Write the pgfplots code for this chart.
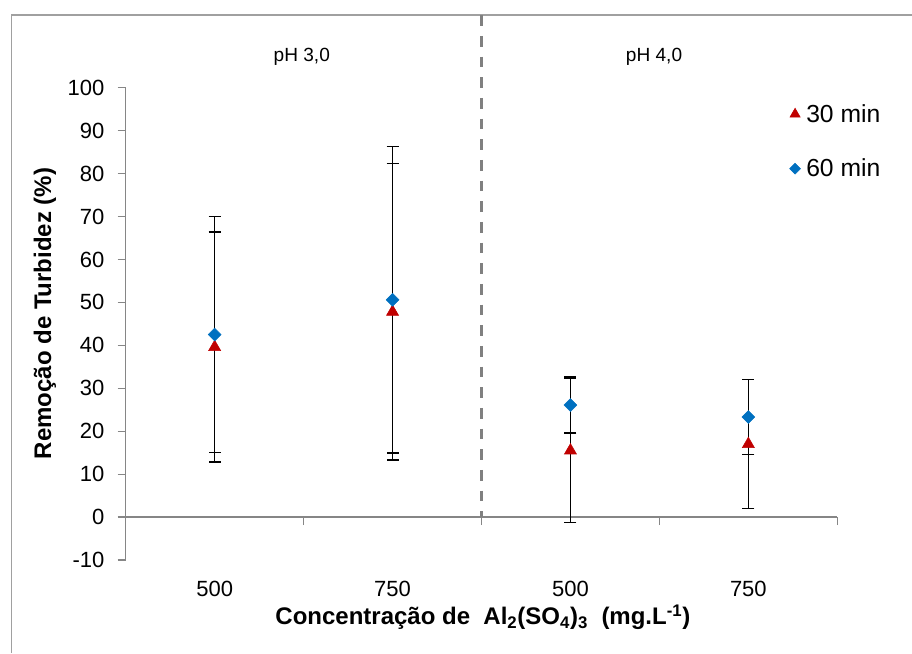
\documentclass[border=0pt]{standalone}
\usepackage{fontspec}
\setmainfont{Liberation Sans}
\usepackage{pgfplots}
\usepackage{pgfplotstable}
\pgfplotsset{compat=1.18}
\definecolor{axgray}{RGB}{134,134,134}
\definecolor{framegray}{RGB}{160,160,160}
\definecolor{dashgray}{RGB}{128,128,128}
\definecolor{myred}{RGB}{192,0,0}
\definecolor{myblue}{RGB}{0,112,192}

\pgfplotstableread{
x y err
0 39.6 26.8
1 47.8 34.5
2 15.5 16.8
3 17.0 15.0
}\thirty
\pgfplotstableread{
x y err
0 42.5 27.5
1 50.6 35.7
2 26.1 6.5
3 23.3 8.7
}\sixty

\begin{document}
\begin{tikzpicture}
\path[use as bounding box] (-94.275pt,-69.75pt) rectangle (589.725pt,420pt);
\draw[framegray, line width=1.1pt] (-85.5pt,-69.75pt) -- (-85.5pt,408.75pt) -- (589.725pt,408.75pt);
\begin{axis}[
  at={(0pt,0pt)}, anchor=south west,
  scale only axis, width=533.7pt, height=354.2pt,
  xmin=-0.5, xmax=3.5, ymin=-10, ymax=100,
  axis x line=center, axis y line=left,
  axis line style={-, axgray, line width=0.9pt},
  tick align=outside,
  major tick length=6pt, minor tick length=6pt,
  every tick/.style={axgray, line width=0.9pt},
  xtick={0,1,2,3},
  xticklabels={500,750,500,750},
  minor xtick={-0.5,0.5,1.5,2.5,3.5},
  every major x tick/.style={draw=none},
  xticklabel style={anchor=center, yshift=-48pt},
  ytick={-10,0,...,100},
  /pgf/number format/assume math mode=true,
  tick label style={font=\fontsize{16.5}{19}\selectfont, black},
  yticklabel style={xshift=-6.5pt},
  xlabel={Concentração de\ \ Al\textsubscript{2}(SO\textsubscript{4})\textsubscript{3}\ \ (mg.L\textsuperscript{-1})},
  ylabel={Remoção de Turbidez (\%)},
  label style={font=\fontsize{18}{22}\selectfont\bfseries},
  xlabel style={at={(axis description cs:0.502,-0.1207)}, anchor=center},
  ylabel style={at={(axis description cs:-0.1134,0.522)}, anchor=center},
  clip=false,
  legend style={at={(rel axis cs:0.927,0.977)}, anchor=north west, draw=none, fill=none,
    font=\fontsize{18.5}{22}\selectfont, row sep=22pt},
  legend cell align=left,
  legend image code/.code={\draw[#1, mark size=0.85*\pgfplotmarksize] plot coordinates {(0cm,0cm)}; \path[draw=none] (0pt,0pt) -- (6.4pt,0pt);},
]
\draw[dashgray, line width=1.8pt, dash pattern=on 8pt off 7.5pt] (axis cs:1.5,116.9) -- (axis cs:1.5,0);
\node[font=\fontsize{14.3}{17}\selectfont] at (axis cs:0.49,107.2) {pH 3,0};
\node[font=\fontsize{14.3}{17}\selectfont] at (axis cs:2.47,107.2) {pH 4,0};
% error bars first
\addplot[draw=none, mark=none, forget plot,
  error bars/.cd, y dir=both, y explicit,
  error bar style={draw=black, line width=1.1pt},
  error mark options={rotate=90, mark size=4.5pt, draw=black, line width=1.1pt}]
  table[x=x, y=y, y error=err] {\thirty};
\addplot[draw=none, mark=none, forget plot,
  error bars/.cd, y dir=both, y explicit,
  error bar style={draw=black, line width=1.1pt},
  error mark options={rotate=90, mark size=4.5pt, draw=black, line width=1.1pt}]
  table[x=x, y=y, y error=err] {\sixty};
% markers
\addplot[only marks, mark=triangle*, mark size=5.2pt, mark options={draw=myred, fill=myred}]
  table[x=x, y=y] {\thirty};
\addplot[only marks, mark=square*, mark size=3.4pt, mark options={draw=myblue, fill=myblue, rotate=45}]
  table[x=x, y=y] {\sixty};
\legend{30 min, 60 min}
\end{axis}
\end{tikzpicture}
\end{document}
